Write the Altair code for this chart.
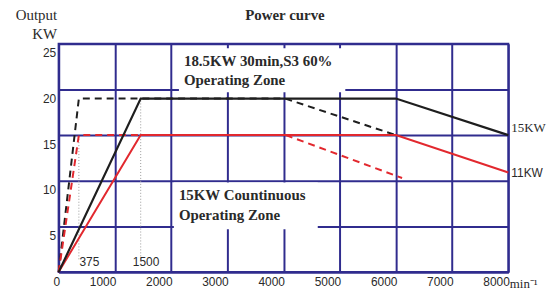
import altair as alt
import pandas as pd

# ---- texts ----
chart_title = ["Power curve"]

# ---- axis ticks ----
x_ticks = [0, 1000, 2000, 3000, 4000, 5000, 6000, 7000, 8000]
y_ticks = [0, 5, 10, 15, 20, 25]

# ---- power curves (speed min^-1, output kW) ----
s6_x = [0, 1460, 6000, 8000]          # black solid
s6_y = [0, 19, 19, 15]
s6_fast_x = [0, 360, 4030, 6000]      # black dashed
s6_fast_y = [0, 19, 19, 15]
s1_x = [0, 1460, 6000, 8000]          # red solid
s1_y = [0, 15, 15, 10.9]
s1_fast_x = [0, 360, 4040, 6110]      # red dashed
s1_fast_y = [0, 15, 15, 10.3]

# ---- base-speed markers ----
base_speed = [360, 1460]
base_top = [15, 19]
base_floor = [1.4, 1.4]
base_label = ["375", "1500"]
base_label_x = [548, 1555]
base_label_y = [1.1, 1.1]

# ---- end labels ----
end_label_serif = ["15KW"]
end_label_serif_y = [15.8]
end_label_sans = ["11KW"]
end_label_sans_y = [10.9]
end_x = 8000

# ---- zone annotations ----
zone_text = ["18.5KW 30min,S3 60%", "Operating Zone", "15KW Countinuous", "Operating Zone"]
zone_x = [2230, 2230, 2140, 2140]
zone_y = [23.15, 20.98, 8.48, 6.3]
box_x = [2140, 2050]
box_x2 = [5100, 4610]
box_y = [24.5, 9.8]
box_y2 = [19.7, 4.7]

NAVY = "#302c8e"
TXT = "#2a2a2a"

xs = alt.Scale(domain=[0, 8000], nice=False, zero=False)
ys = alt.Scale(domain=[0, 25], nice=False, zero=False)

x_axis = alt.Axis(
    values=x_ticks, format="d", grid=True, gridColor=NAVY, gridWidth=2, gridOpacity=1,
    domainColor=NAVY, domainWidth=2, ticks=False, tickSize=0,
    labelAlign="right", labelOffset=1, labelPadding=4, labelFlush=False,
    labelFont="Liberation Sans", labelFontSize=12, labelColor=TXT,
    title="min⁻¹", titleFont="Liberation Serif", titleFontSize=13,
    titleFontWeight="normal", titleColor=TXT, titleAlign="left",
    titleAnchor="start", titleX=454, titleY=16, titleBaseline="alphabetic",
)
y_axis = alt.Axis(
    values=y_ticks, format="d", grid=True, gridColor=NAVY, gridWidth=2, gridOpacity=1,
    domainColor=NAVY, domainWidth=2, ticks=False, tickSize=0,
    labelOffset=9, labelPadding=3, labelFlush=False,
    labelExpr="datum.value == 0 ? '' : datum.label",
    labelFont="Liberation Sans", labelFontSize=12, labelColor=TXT,
    title=["Output", "KW"], titleAngle=0, titleAlign="right",
    titleX=-2, titleY=-24, titleBaseline="alphabetic", titleLineHeight=19,
    titleFont="Liberation Serif", titleFontSize=15, titleFontWeight="normal",
    titleColor=TXT,
)

boxes = pd.DataFrame({"x": box_x, "x2": box_x2, "y": box_y, "y2": box_y2})
box_layer = alt.Chart(boxes).mark_rect(color="white").encode(
    x=alt.X("x:Q", scale=xs, axis=x_axis),
    x2="x2:Q",
    y=alt.Y("y:Q", scale=ys, axis=y_axis),
    y2="y2:Q",
)


def curve(xv, yv, color, dash=None, width=2):
    df = pd.DataFrame({"x": xv, "y": yv, "i": list(range(len(xv)))})
    kw = dict(color=color, strokeWidth=width)
    if dash:
        kw["strokeDash"] = dash
    return alt.Chart(df).mark_line(**kw).encode(
        x=alt.X("x:Q", scale=xs),
        y=alt.Y("y:Q", scale=ys),
        order="i:Q",
    )


markers = pd.DataFrame({"x": base_speed, "y": base_floor, "y2": base_top})
marker_layer = alt.Chart(markers).mark_rule(
    color="#9a9a9a", strokeDash=[1, 2], strokeWidth=1
).encode(
    x=alt.X("x:Q", scale=xs),
    y=alt.Y("y:Q", scale=ys),
    y2="y2:Q",
)

mlabels = pd.DataFrame({"x": base_label_x, "y": base_label_y, "t": base_label})
mlabel_layer = alt.Chart(mlabels).mark_text(
    font="Liberation Sans", fontSize=12, color=TXT, align="center", baseline="middle"
).encode(
    x=alt.X("x:Q", scale=xs),
    y=alt.Y("y:Q", scale=ys),
    text="t:N",
)

end_serif = pd.DataFrame({"x": [end_x] * len(end_label_serif), "y": end_label_serif_y, "t": end_label_serif})
end_serif_layer = alt.Chart(end_serif).mark_text(
    font="Liberation Serif", fontSize=13, color=TXT, align="left", baseline="middle", dx=3
).encode(
    x=alt.X("x:Q", scale=xs),
    y=alt.Y("y:Q", scale=ys),
    text="t:N",
)
end_sans = pd.DataFrame({"x": [end_x] * len(end_label_sans), "y": end_label_sans_y, "t": end_label_sans})
end_sans_layer = alt.Chart(end_sans).mark_text(
    font="Liberation Sans", fontSize=12, color=TXT, align="left", baseline="middle", dx=3
).encode(
    x=alt.X("x:Q", scale=xs),
    y=alt.Y("y:Q", scale=ys),
    text="t:N",
)

zones = pd.DataFrame({"x": zone_x, "y": zone_y, "t": zone_text})
zone_layer = alt.Chart(zones).mark_text(
    font="Liberation Serif", fontSize=15, fontWeight="bold", color=TXT,
    align="left", baseline="middle",
).encode(
    x=alt.X("x:Q", scale=xs),
    y=alt.Y("y:Q", scale=ys),
    text="t:N",
)

title_layer = alt.Chart(pd.DataFrame({"t": chart_title})).mark_text(
    font="Liberation Serif", fontSize=15, fontWeight="bold", color=TXT,
    align="center", baseline="alphabetic",
).encode(
    x=alt.value(228), y=alt.value(-24), text="t:N",
)

chart = alt.layer(
    box_layer,
    marker_layer,
    curve(s6_fast_x, s6_fast_y, "#1e1e1e", dash=[7, 5], width=2),
    curve(s1_fast_x, s1_fast_y, "#e2282e", dash=[7, 5], width=2),
    curve(s1_x, s1_y, "#e2282e", width=2),
    curve(s6_x, s6_y, "#1e1e1e", width=2.2),
    mlabel_layer,
    end_serif_layer,
    end_sans_layer,
    zone_layer,
    title_layer,
).properties(
    width=453,
    height=230,
    autosize=alt.AutoSizeParams(type="none"),
    padding={"left": 51, "top": 35, "right": 43, "bottom": 19},
    background="white",
).configure_view(
    stroke=NAVY, strokeWidth=2
)

chart.save("out.html", embed_options={"renderer": "svg", "actions": False})
